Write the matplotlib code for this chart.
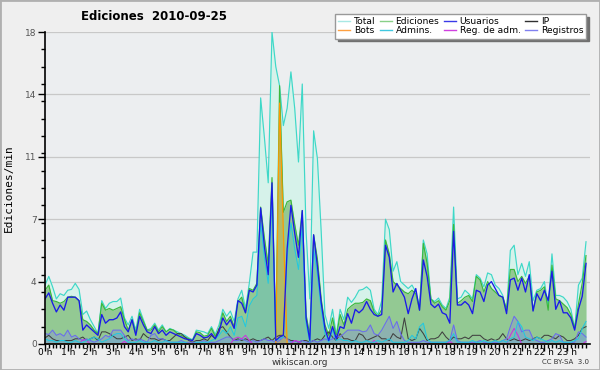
#importamos las librerias
import matplotlib
matplotlib.use("Agg")
import matplotlib.pyplot as plt
from matplotlib.lines import Line2D
from matplotlib.patches import Rectangle
import numpy as np

#valores (ediciones por minuto, cada 10 minutos)
total = [3.4, 3.9, 3.3, 2.6, 2.9, 2.8, 3.1, 3.15, 3.5, 3.15, 1.7, 1.9,
         1.4, 1.0, 0.6, 2.5, 2.05, 2.35, 2.45, 2.45, 2.65, 1.5, 1.1, 1.6,
         0.8, 2.0, 1.4, 0.8, 0.9, 1.2, 0.8, 1.1, 0.7, 0.9, 0.8, 0.7,
         0.6, 0.5, 0.35, 0.25, 0.8, 0.75, 0.7, 0.6, 1.0, 0.55, 1.1, 2.0,
         1.6, 1.9, 1.3, 2.6, 3.1, 2.05, 3.5, 5.3, 5.3, 14.2, 11.9, 9.3,
         18.0, 16.0, 14.9, 12.6, 13.6, 15.7, 13.6, 10.5, 15.0, 6.5, 2.6, 12.3,
         10.7, 6.5, 1.7, 0.9, 2.0, 0.5, 2.0, 1.4, 2.7, 2.4, 2.7, 3.1,
         3.15, 3.3, 3.1, 2.0, 1.7, 2.5, 7.2, 6.6, 4.2, 4.75, 3.6, 3.4,
         3.2, 3.4, 3.0, 2.15, 6.0, 5.2, 2.6, 2.45, 2.65, 2.25, 2.05, 2.7,
         7.9, 2.6, 2.7, 3.1, 2.9, 2.6, 4.0, 3.8, 3.3, 4.1, 4.0, 3.4,
         3.2, 2.8, 1.9, 5.4, 5.7, 4.0, 4.65, 3.9, 4.75, 2.5, 3.1, 3.2,
         3.6, 2.15, 5.2, 2.8, 2.8, 2.7, 2.45, 2.0, 0.9, 3.4, 3.8, 5.9]

ediciones = [3.1, 3.4, 2.5, 2.45, 2.35, 2.45, 2.7, 2.75, 2.7, 2.5, 1.4, 1.3,
             1.1, 0.8, 0.6, 2.35, 1.95, 2.05, 1.95, 2.05, 2.15, 1.4, 0.8, 1.4,
             0.6, 1.8, 1.3, 0.8, 0.8, 1.1, 0.7, 1.0, 0.7, 0.85, 0.8, 0.6,
             0.5, 0.4, 0.3, 0.2, 0.7, 0.65, 0.45, 0.5, 0.9, 0.45, 0.8, 1.8,
             1.3, 1.6, 1.0, 2.45, 2.7, 1.8, 3.2, 3.1, 3.5, 7.9, 6.1, 4.6,
             9.6, 0.5, 14.9, 7.6, 8.2, 8.3, 6.9, 5.7, 7.7, 1.7, 0.5, 6.3,
             4.9, 2.6, 1.1, 0.5, 1.5, 0.4, 1.7, 1.1, 2.0, 2.2, 2.35, 2.35,
             2.4, 2.6, 2.5, 1.85, 1.6, 2.0, 6.0, 5.2, 3.6, 3.4, 3.2, 3.0,
             2.9, 3.1, 2.9, 1.95, 5.8, 4.65, 2.6, 2.35, 2.5, 2.15, 1.95, 2.5,
             6.9, 2.35, 2.5, 2.7, 2.8, 2.45, 3.9, 3.7, 3.0, 3.6, 3.2, 3.0,
             2.8, 2.7, 2.0, 4.3, 4.3, 3.6, 3.9, 3.5, 3.9, 1.95, 3.0, 3.1,
             3.3, 1.95, 4.55, 2.6, 2.5, 2.3, 2.1, 1.7, 0.9, 2.3, 3.5, 5.1]

usuarios = [2.6, 2.95, 2.35, 1.85, 2.25, 1.95, 2.7, 2.7, 2.7, 2.5, 0.8, 1.1,
            0.9, 0.7, 0.5, 1.7, 1.2, 1.4, 1.4, 1.5, 1.85, 1.0, 0.7, 1.4,
            0.5, 1.6, 1.1, 0.7, 0.6, 1.0, 0.6, 0.8, 0.5, 0.7, 0.6, 0.5,
            0.4, 0.3, 0.25, 0.2, 0.6, 0.5, 0.35, 0.4, 0.6, 0.3, 0.7, 1.5,
            1.1, 1.4, 0.9, 2.5, 2.35, 1.8, 3.1, 3.0, 3.4, 7.85, 5.6, 4.0,
            9.3, 0.2, 0.4, 0.5, 5.5, 8.0, 6.4, 5.0, 7.7, 1.5, 0.2, 6.3,
            4.5, 2.4, 0.9, 0.2, 1.0, 0.3, 1.0, 0.9, 1.75, 1.2, 2.0, 1.8,
            2.0, 2.45, 2.0, 1.7, 1.6, 1.7, 5.7, 5.0, 3.0, 3.5, 3.1, 2.7,
            1.75, 2.6, 3.2, 1.95, 4.85, 3.9, 2.3, 2.1, 2.3, 1.8, 1.7, 1.2,
            6.5, 2.25, 2.25, 2.45, 2.25, 1.75, 3.1, 3.0, 2.45, 3.4, 3.6, 3.2,
            2.8, 2.7, 1.75, 3.7, 3.8, 3.1, 3.8, 3.0, 4.0, 1.9, 2.9, 2.5,
            3.1, 2.5, 4.2, 2.0, 2.5, 1.8, 1.8, 1.5, 0.8, 2.0, 2.75, 4.65]

ip = [0.35, 0.5, 0.3, 0.2, 0.2, 0.2, 0.2, 0.2, 0.3, 0.3, 0.4, 0.2,
      0.3, 0.4, 0.2, 0.7, 0.7, 0.6, 0.45, 0.3, 0.3, 0.4, 0.5, 0.2,
      0.3, 0.2, 0.6, 0.4, 0.3, 0.3, 0.2, 0.3, 0.2, 0.2, 0.4, 0.6,
      0.6, 0.4, 0.2, 0.1, 0.2, 0.2, 0.3, 0.2, 0.5, 0.3, 0.9, 1.0,
      0.7, 0.4, 0.2, 0.3, 0.2, 0.3, 0.2, 0.3, 0.2, 0.2, 0.3, 0.4,
      0.2, 0.4, 0.5, 0.5, 0.3, 0.2, 0.2, 0.1, 0.2, 0.2, 0.1, 0.2,
      0.3, 0.2, 0.5, 0.7, 0.4, 0.2, 0.6, 0.3, 0.3, 0.2, 0.2, 0.6,
      0.5, 0.2, 0.3, 0.4, 0.5, 0.3, 0.3, 0.2, 0.6, 0.4, 0.3, 1.5,
      0.3, 0.2, 0.3, 0.9, 0.6, 0.2, 0.3, 0.3, 0.4, 0.7, 0.4, 0.2,
      0.4, 0.3, 0.3, 0.4, 0.3, 0.5, 0.5, 0.5, 0.3, 0.2, 0.3, 0.2,
      0.3, 0.6, 0.3, 0.2, 0.3, 0.2, 0.2, 0.3, 0.2, 0.3, 0.4, 0.3,
      0.5, 0.5, 0.4, 0.3, 0.5, 0.4, 0.2, 0.2, 0.3, 0.5, 0.9, 1.0]

bots = [0] * 62 + [13.9, 6.5] + [0] * 80

admins = [0.3, 0.2, 0.2, 0.1, 0.2, 0.2, 0.1, 0.1, 0.2, 0.1, 0.1, 0.2,
          0.3, 0.4, 0.3, 0.1, 0.2, 0.3, 0.5, 0.6, 0.6, 0.3, 0.1, 0.1,
          0.1, 0.2, 0.1, 0.1, 0.1, 0.2, 0.1, 0.1, 0.2, 0.1, 0.1, 0.1,
          0.1, 0.1, 0.0, 0.0, 0.1, 0.1, 0.1, 0.1, 0.2, 0.3, 0.5, 0.8,
          0.6, 1.0, 0.5, 1.5, 1.6, 1.0, 2.2, 2.6, 2.8, 7.0, 5.0, 3.5,
          8.5, 0.2, 0.3, 0.4, 5.0, 7.0, 5.5, 4.3, 6.8, 1.2, 0.1, 5.5,
          4.0, 2.0, 0.6, 0.1, 0.8, 0.2, 0.3, 0.2, 0.2, 0.1, 0.2, 0.1,
          0.1, 0.2, 0.1, 0.1, 0.2, 0.1, 0.2, 0.3, 0.1, 0.1, 0.1, 0.1,
          0.2, 0.5, 0.3, 1.0, 1.2, 0.3, 0.1, 0.1, 0.1, 0.1, 0.1, 0.2,
          0.6, 0.1, 0.1, 0.1, 0.1, 0.2, 0.1, 0.1, 0.2, 0.1, 0.1, 0.2,
          0.1, 0.2, 0.1, 0.3, 0.4, 1.3, 1.0, 0.4, 0.3, 0.2, 0.4, 0.3,
          0.2, 0.1, 0.2, 0.1, 0.2, 0.1, 0.1, 0.1, 0.2, 0.3, 0.9, 1.3]

reg_adm = [0, 0, 0, 0, 0, 0, 0, 0, 0, 0, 0.25, 0.2,
           0, 0, 0, 0, 0, 0, 0, 0, 0, 0.15, 0, 0,
           0, 0, 0, 0, 0, 0, 0, 0, 0, 0, 0, 0,
           0, 0, 0, 0, 0, 0, 0, 0, 0, 0, 0, 0,
           0, 0, 0.3, 0.4, 0.3, 0.5, 0.2, 0, 0, 0, 0, 0,
           0, 0, 0, 0, 0, 0, 0.2, 0.15, 0, 0, 0, 0,
           0, 0, 0, 0, 0, 0, 0, 0, 0, 0, 0, 0,
           0, 0, 0, 0.2, 0, 0, 0, 0, 0, 0, 0, 0,
           0, 0, 0, 0, 0, 0, 0, 0, 0, 0, 0, 0.15,
           0, 0, 0, 0, 0, 0, 0, 0, 0, 0, 0, 0,
           0, 0, 0, 0.5, 0.9, 0.5, 0, 0, 0, 0, 0, 0,
           0, 0, 0, 0, 0, 0, 0, 0, 0, 0, 0, 0.15]

registros = [0.6, 0.55, 0.8, 0.5, 0.6, 0.45, 0.8, 0.4, 0.5, 0.3, 0.2, 0.3,
             0.2, 0.1, 0.2, 0.3, 0.5, 0.4, 0.8, 0.8, 0.8, 0.5, 0.2, 0.3,
             0.2, 0.3, 0.2, 0.1, 0.5, 0.6, 0.3, 0.3, 0.2, 0.1, 0.1, 0.1,
             0.2, 0.1, 0.1, 0.1, 0.1, 0.1, 0.2, 0.1, 0.1, 0.1, 0.2, 0.3,
             0.4, 0.4, 0.2, 0.2, 0.3, 0.2, 0.1, 0.2, 0.1, 0.2, 0.3, 0.2,
             0.2, 0.1, 0.2, 0.4, 0.3, 0.1, 0.2, 0.1, 0.2, 0.1, 0.1, 0.2,
             0.1, 0.2, 0.3, 0.2, 0.3, 0.5, 0.4, 0.6, 0.8, 0.8, 0.8, 0.8,
             0.7, 0.75, 1.1, 0.6, 0.5, 0.8, 1.2, 1.6, 0.9, 1.3, 0.6, 0.2,
             0.1, 0.1, 0.1, 0.1, 0.2, 0.1, 0.1, 0.1, 0.1, 0.1, 0.1, 0.2,
             1.1, 0.2, 0.1, 0.1, 0.1, 0.1, 0.1, 0.2, 0.1, 0.1, 0.1, 0.1,
             0.1, 0.2, 0.3, 1.0, 1.6, 1.3, 0.7, 0.8, 0.8, 0.3, 0.2, 0.1,
             0.1, 0.2, 0.3, 0.6, 0.5, 0.1, 0.1, 0.1, 0.1, 0.7, 0.6, 0.4]

#etiquetas de los ejes
etiquetas_horas = [f"{h} h" for h in range(24)]
valores_y = [0, 3.6, 7.2, 10.8, 14.4, 18]
etiquetas_y = ["0", "4", "7", "11", "14", "18"]

horas = np.arange(len(total)) / 6.0  #un punto cada 10 minutos

#aca creamos el grafico
fig = plt.figure(figsize=(6, 3.7), dpi=100, facecolor="#efefef")
ax = fig.add_axes([0.075, 0.0703, 0.908, 0.8432])
ax.set_facecolor("#eceef0")

#areas rellenas
ax.fill_between(horas, 0, total, color="#d6f2ea", lw=0)
ax.fill_between(horas, 0, ediciones, color="#93c993", lw=0)
ax.fill_between(horas, 0, admins, color="#40b8e0", alpha=0.25, lw=0)
ax.fill_between(horas, 0, registros, color="#8080f0", alpha=0.3, lw=0)
ax.fill_between(horas, 0, bots, color="#ff9900", alpha=0.3, lw=0)

#lineas de cada serie
ax.plot(horas, total, color="#3ed8c8", lw=0.85)
ax.plot(horas, ediciones, color="#3cb83c", lw=0.85)
ax.plot(horas, ip, color="#404040", lw=0.75)
ax.plot(horas, registros, color="#6a6af0", lw=0.75)
ax.plot(horas, reg_adm, color="#cc33dd", lw=0.75)
ax.plot(horas, admins, color="#22c8e0", lw=0.75)
ax.plot(horas, bots, color="#ff9900", lw=0.85)
ax.plot(horas, usuarios, color="#1a1ae8", lw=0.95)

#ejes y cuadricula
ax.set_xlim(0, 24)
ax.set_ylim(0, 18)
ax.set_xticks(range(24))
ax.set_xticklabels(etiquetas_horas, fontsize=6.5)
ax.set_xticks(np.arange(0, 24, 1 / 6), minor=True)
ax.set_yticks(valores_y)
ax.set_yticklabels(etiquetas_y, fontsize=6.5, color="#555555")
ax.set_yticks(range(1, 18), minor=True)
ax.tick_params(axis="y", which="major", length=5, width=1, pad=1)
ax.tick_params(axis="x", which="major", length=5, width=1, pad=-2)
ax.tick_params(axis="both", which="minor", length=3, width=1)
ax.grid(True, axis="y", color="#c8c8c8", lw=0.9)
ax.set_axisbelow(True)
for lado in ["top", "right"]:
    ax.spines[lado].set_visible(False)
ax.spines["left"].set_linewidth(1.2)
ax.spines["bottom"].set_linewidth(1.2)

ax.set_ylabel("Ediciones/min", family="DejaVu Sans Mono", fontsize=8, labelpad=8)

#titulo y textos
fig.text(0.257, 0.955, "Ediciones  2010-09-25", ha="center", va="center",
         fontsize=8.5, fontweight="bold")
fig.text(0.5, 0.021, "wikiscan.org", ha="center", va="center", fontsize=6.5, color="#333333")
fig.text(0.982, 0.021, "CC BY-SA  3.0", ha="right", va="center", fontsize=5, color="#333333")

#leyenda
nombres = ["Total", "Bots", "Ediciones", "Admins.", "Usuarios", "Reg. de adm.", "IP", "Registros"]
colores = ["#a8e8e4", "#ffa040", "#88d088", "#40c8e0", "#3a3ae8", "#d040e0", "#303030", "#8080f0"]
manijas = [Line2D([0], [0], color=c, lw=1.0) for c in colores]
fig.legend(manijas, nombres, ncol=4, loc="upper right", bbox_to_anchor=(0.985, 0.975),
           fontsize=6.6, frameon=True, fancybox=False,
           shadow={"color": "#707070", "alpha": 1}, edgecolor="#999999",
           framealpha=1, handlelength=1.3, handletextpad=0.4, columnspacing=0.5,
           labelspacing=0.05, borderpad=0.35)

#borde del grafico
fig.patches.append(Rectangle((0, 0), 1, 1, transform=fig.transFigure, fill=False,
                             edgecolor="#b0b0b0", lw=2))

fig.savefig("out.png", dpi=100, facecolor=fig.get_facecolor())
